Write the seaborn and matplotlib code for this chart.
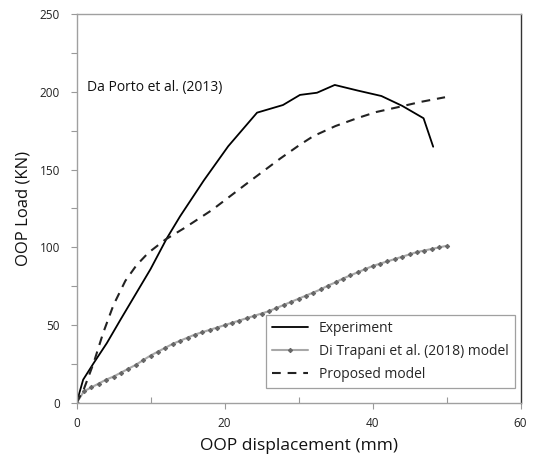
import matplotlib
matplotlib.use("Agg")
import matplotlib.pyplot as plt
import seaborn as sns
import pandas as pd
from matplotlib.ticker import MultipleLocator

sns.set_style("white")
plt.rcParams['font.family'] = ['Open Sans', 'DejaVu Sans']

# Experiment
exp_x = [0, 0.9, 2.3, 4.1, 6.0, 8.0, 10.0, 12.2, 14.0, 17.2, 20.5, 24.4, 27.9, 30.2, 32.5, 34.9, 38.0, 41.2, 44.0, 46.9, 48.2]
exp_y = [0, 15, 25.5, 38.5, 54, 70, 86, 105.8, 120, 143, 165, 186.6, 191.5, 198, 199.4, 204.4, 200.8, 197.3, 191, 183, 164.7]

# Di Trapani et al. (2018) model
dt_x = list(range(0, 51))
dt_y = [0, 7.5, 10, 12.5, 15, 17, 19.5, 22, 24.5, 27.5, 30.5, 33, 35.5, 38, 40, 42, 44, 45.5, 47, 48.5,
        50, 51.5, 53, 54.5, 56, 57.5, 59, 61, 63, 65, 67, 69, 71, 73, 75.5, 77.5, 80, 82, 84, 86,
        88, 89.5, 91, 92.5, 94, 95.5, 97, 98, 99, 100, 101]

# Proposed model
pm_x = [0, 1.0, 2.3, 3.6, 5.0, 6.6, 8.1, 9.7, 12.0, 14.6, 18.3, 23.0, 27.5, 30.2, 32.0, 35.0, 37.9, 40.5, 43.7, 46.5, 49.8]
pm_y = [0, 9, 25.5, 45, 63, 78.5, 88.5, 96.5, 105, 112.5, 124, 141, 157, 166, 171.5, 178, 183, 187, 190.4, 193.5, 196.5]

labels = ["Experiment", "Di Trapani et al. (2018) model", "Proposed model"]

fig = plt.figure(figsize=(5.34, 4.61), dpi=100)
ax = fig.add_axes([76.5/534, 1-403/461, 444/534, 389/461])

sns.lineplot(data=pd.DataFrame({"x": exp_x, "y": exp_y}), x="x", y="y", ax=ax,
             color="black", linewidth=1.3, label=labels[0], sort=False)
sns.lineplot(data=pd.DataFrame({"x": dt_x, "y": dt_y}), x="x", y="y", ax=ax,
             color="#a8a8a8", linewidth=1.5, marker="D", markersize=2.2,
             markerfacecolor="#666666", markeredgecolor="#666666", label=labels[1], sort=False)
sns.lineplot(data=pd.DataFrame({"x": pm_x, "y": pm_y}), x="x", y="y", ax=ax,
             color="#222222", linewidth=1.5, label=labels[2], sort=False)
ax.lines[-1].set_linestyle((0, (4.2, 3.3)))

ax.set_xlim(0, 60)
ax.set_ylim(0, 250)
ax.xaxis.set_major_locator(MultipleLocator(20))
ax.xaxis.set_minor_locator(MultipleLocator(10))
ax.yaxis.set_major_locator(MultipleLocator(50))
ax.yaxis.set_minor_locator(MultipleLocator(25))
ax.tick_params(axis='both', which='major', direction='out', length=4, width=0.8,
               color='#999999', labelsize=8.5, labelcolor='#222222', left=True, bottom=True)
ax.tick_params(axis='x', which='minor', direction='in', length=4, width=0.8, color='#999999', bottom=True)
ax.tick_params(axis='y', which='minor', direction='out', length=4, width=0.8, color='#999999', left=True)
ax.tick_params(axis='x', which='major', pad=6)
ax.tick_params(axis='y', which='major', pad=8)

for s in ['left', 'bottom', 'top']:
    ax.spines[s].set_color('#a0a0a0')
    ax.spines[s].set_linewidth(1.0)
ax.spines['right'].set_color('#333333')
ax.spines['right'].set_linewidth(1.0)

ax.set_xlabel("OOP displacement (mm)", fontsize=12.5, color='#111111', labelpad=6)
ax.set_ylabel("OOP Load (KN)", fontsize=12, color='#111111', labelpad=6)

ax.text(0.024, 0.81, "Da Porto et al. (2013)", transform=ax.transAxes, fontsize=10,
        color='#111111', va='center', ha='left')

leg = ax.legend(loc='lower right', bbox_to_anchor=(0.9876, 0.039), borderaxespad=0,
                fontsize=10, frameon=True, fancybox=False, handlelength=2.6,
                labelspacing=0.55, borderpad=0.45, handletextpad=0.8)
leg.get_frame().set_edgecolor('#888888')
leg.get_frame().set_linewidth(0.9)

fig.savefig("out.png", dpi=100)
